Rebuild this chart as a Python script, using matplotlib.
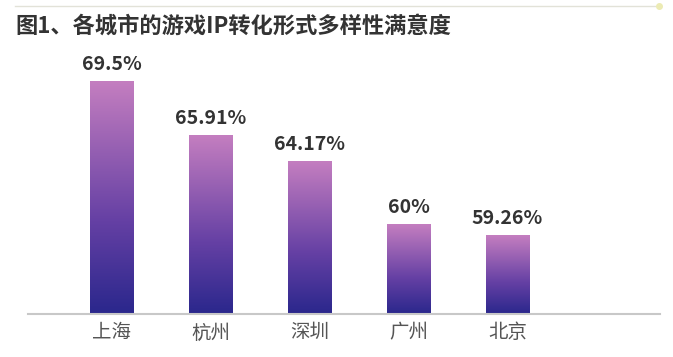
import numpy as np
import matplotlib.pyplot as plt
from matplotlib.colors import LinearSegmentedColormap
from matplotlib.lines import Line2D

plt.rcParams['font.family'] = ['Noto Sans CJK SC', 'DejaVu Sans']

cities = ['上海', '杭州', '深圳', '广州', '北京']
values = [69.5, 65.91, 64.17, 60, 59.26]
labels = ['69.5%', '65.91%', '64.17%', '60%', '59.26%']
title = '图1、各城市的游戏IP转化形式多样性满意度'

fig = plt.figure(figsize=(6.73, 3.57), dpi=100)
ax = fig.add_axes([28/673, 1-314/357, (660-28)/673, (314-60)/357])

cmap = LinearSegmentedColormap.from_list(
    'bar', [(0, '#2a278c'), (0.4, '#6540a4'), (1, '#c47ec0')])
grad = np.linspace(0, 1, 256).reshape(-1, 1)

x = np.arange(len(cities))
bars = ax.bar(x, values, width=0.44, color='none', edgecolor='none')
ymin = 54.1
for b, lab in zip(bars, labels):
    x0 = b.get_x()
    x1 = x0 + b.get_width()
    top = b.get_height()
    ax.imshow(grad, extent=[x0, x1, ymin, top], origin='lower', aspect='auto',
              cmap=cmap, zorder=2)
    ax.text(x0 + b.get_width()/2, top + 0.5, lab, ha='center', va='bottom',
            fontsize=14, fontweight='bold', color='#333333')

ax.set_xlim(-0.843, 5.54)
ax.set_ylim(ymin, 70.9)
ax.set_xticks(x)
ax.set_xticklabels(cities, fontsize=14, color='#555555')
ax.tick_params(axis='x', length=0, pad=6)
ax.set_yticks([])
for s in ['top', 'right', 'left']:
    ax.spines[s].set_visible(False)
ax.spines['bottom'].set_color('#c8c8c8')
ax.spines['bottom'].set_linewidth(1.5)

fig.text(15/673, 1-26/357, title, fontsize=16, fontweight='bold',
         color='#333333', va='center', ha='left')

fig.add_artist(Line2D([15/673, 655/673], [1-6/357, 1-6/357], color='#e2e2d8', lw=1))
fig.add_artist(Line2D([659/673], [1-6/357], marker='o', ms=4, color='#ecebb4', mec='#ecebb4'))

fig.savefig('out.png', dpi=100)
